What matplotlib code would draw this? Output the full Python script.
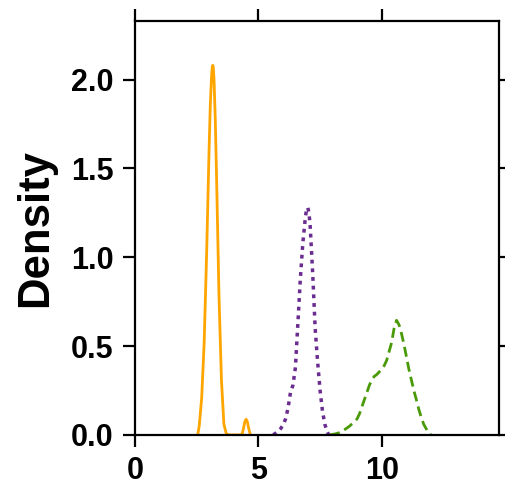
import matplotlib
matplotlib.use("Agg")
import matplotlib.pyplot as plt

# density curves
x_orange = [2.55, 2.6, 2.7, 2.8, 2.9, 3.0, 3.05, 3.1, 3.13, 3.15, 3.17, 3.2, 3.25, 3.3, 3.4, 3.5, 3.6, 3.7, 3.8,
            3.9, 4.0, 4.1, 4.2, 4.3, 4.35, 4.4, 4.45, 4.5, 4.55, 4.6, 4.65, 4.68]
y_orange = [0.01, 0.05, 0.21, 0.52, 1.02, 1.61, 1.86, 2.02, 2.07, 2.08, 2.07, 2.00, 1.78, 1.47, 0.79, 0.31, 0.06, 0.005, 0.0,
            0.0, 0.0, 0.0, 0.0, 0.0, 0.01, 0.04, 0.075, 0.088, 0.075, 0.04, 0.012, 0.0]

x_purple = [5.6, 5.7, 5.8, 5.9, 6.0, 6.1, 6.2, 6.3, 6.4, 6.5, 6.6, 6.7, 6.8, 6.9, 6.95, 7.0, 7.05,
            7.1, 7.2, 7.3, 7.4, 7.5, 7.6, 7.7, 7.8, 7.85]
y_purple = [0.0, 0.01, 0.02, 0.035, 0.056, 0.09, 0.15, 0.24, 0.28, 0.38, 0.63, 0.88, 1.08, 1.22, 1.27, 1.28, 1.25,
            1.17, 0.91, 0.60, 0.41, 0.25, 0.13, 0.056, 0.015, 0.0]

x_green = [7.9, 8.0, 8.1, 8.2, 8.3, 8.4, 8.5, 8.6, 8.7, 8.8, 8.9, 9.0, 9.1, 9.2, 9.3, 9.4, 9.5, 9.6, 9.7,
           9.8, 9.9, 10.0, 10.1, 10.2, 10.3, 10.4, 10.5, 10.6, 10.7, 10.8, 10.9, 11.0, 11.1, 11.2, 11.3,
           11.4, 11.5, 11.6, 11.7, 11.8, 11.9, 12.0]
y_green = [0.0, 0.003, 0.005, 0.009, 0.013, 0.02, 0.03, 0.04, 0.05, 0.063, 0.077, 0.09, 0.12, 0.16, 0.20,
           0.24, 0.28, 0.31, 0.33, 0.34, 0.355, 0.37, 0.39, 0.42, 0.47, 0.52, 0.60, 0.645, 0.62, 0.57,
           0.51, 0.44, 0.37, 0.31, 0.25, 0.20, 0.145, 0.10, 0.06, 0.035, 0.01, 0.0]

xticks = [0, 5, 10]
yticks = [0.0, 0.5, 1.0, 1.5, 2.0]

plt.rcParams["font.family"] = ["Liberation Sans", "DejaVu Sans"]
plt.rcParams["font.weight"] = "bold"

fig = plt.figure(figsize=(5.06, 4.87), dpi=100)
ax = fig.add_axes([0.267, 0.107, 0.719, 0.850])

ax.plot(x_orange, y_orange, color="#FFA500", lw=2.0)
ax.plot(x_purple, y_purple, color="#6A2C91", lw=2.5, linestyle=(0, (1.1, 1.4)))
ax.plot(x_green, y_green, color="#4A9A08", lw=2.0, linestyle=(0, (3.6, 1.9)))

ax.set_xlim(0, 14.75)
ax.set_ylim(0, 2.33)
ax.set_xticks(xticks)
ax.set_yticks(yticks)
ax.set_yticklabels(["0.0", "0.5", "1.0", "1.5", "2.0"])

for s in ax.spines.values():
    s.set_linewidth(1.6)
ax.tick_params(axis="both", which="major", direction="out", length=8.5, width=1.6,
               labelsize=22, top=True, right=True)
ax.tick_params(axis="y", pad=7)
ax.tick_params(axis="x", pad=6.5)
for lab in ax.get_xticklabels() + ax.get_yticklabels():
    lab.set_fontweight("bold")

ax.set_ylabel("Density", fontsize=31.5, fontweight="bold", labelpad=10.5)

fig.savefig("out.png", dpi=100)
